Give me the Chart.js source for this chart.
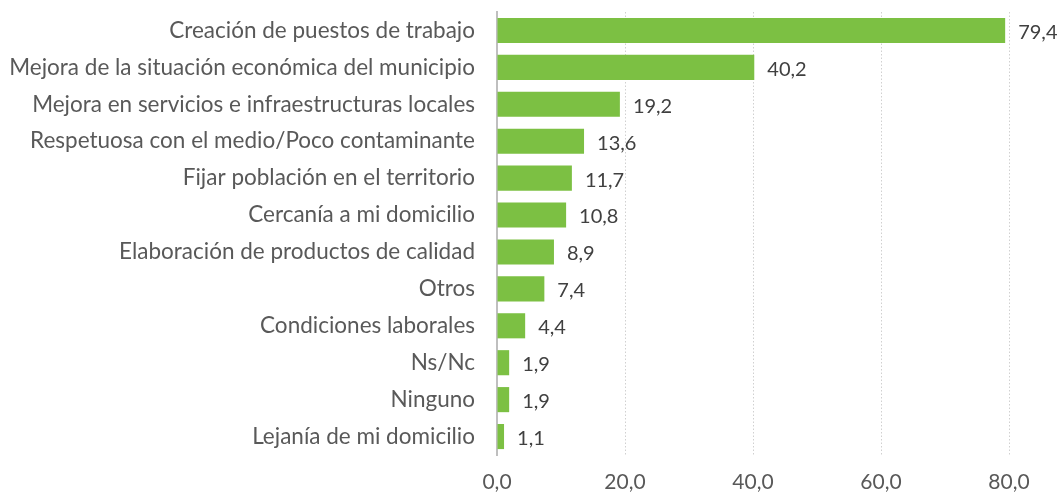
<!DOCTYPE html>
<html>
<head>
<meta charset="utf-8">
<script src="https://cdn.jsdelivr.net/npm/chart.js@4/dist/chart.umd.min.js"></script>
<style>
  body { margin: 0; background: #fff; }
  canvas { display: block; }
</style>
</head>
<body>
<canvas id="chart" width="1057" height="495"></canvas>
<script>
// datos
const categories = [
  'Creación de puestos de trabajo',
  'Mejora de la situación económica del municipio',
  'Mejora en servicios e infraestructuras locales',
  'Respetuosa con el medio/Poco contaminante',
  'Fijar población en el territorio',
  'Cercanía a mi domicilio',
  'Elaboración de productos de calidad',
  'Otros',
  'Condiciones laborales',
  'Ns/Nc',
  'Ninguno',
  'Lejanía de mi domicilio'
];
const values = [79.4, 40.2, 19.2, 13.6, 11.7, 10.8, 8.9, 7.4, 4.4, 1.9, 1.9, 1.1];
const xTicks = [0, 20, 40, 60, 80];

const fontFamily = 'Lato, "Open Sans", sans-serif';
const fmt = v => v.toFixed(1).replace('.', ',');

// etiquetas de valor al final de cada barra
const valueLabels = {
  id: 'valueLabels',
  afterDatasetsDraw(chart) {
    const ctx = chart.ctx;
    const meta = chart.getDatasetMeta(0);
    ctx.save();
    ctx.font = '20px ' + fontFamily;
    ctx.fillStyle = '#404040';
    ctx.textAlign = 'left';
    ctx.textBaseline = 'middle';
    meta.data.forEach((bar, i) => {
      ctx.fillText(fmt(values[i]), bar.x + 13, bar.y + 2);
    });
    ctx.restore();
  }
};

const ctx = document.getElementById('chart').getContext('2d');
window.myChart = new Chart(ctx, {
  type: 'bar',
  data: {
    labels: categories,
    datasets: [{
      data: values,
      backgroundColor: '#7cc043',
      barPercentage: 0.68,
      categoryPercentage: 1
    }]
  },
  options: {
    responsive: false,
    animation: false,
    indexAxis: 'y',
    layout: { padding: { top: 12, right: 48, bottom: 0, left: 0 } },
    plugins: {
      legend: { display: false },
      tooltip: { enabled: false }
    },
    scales: {
      x: {
        min: 0,
        max: 80,
        afterBuildTicks: scale => { scale.ticks = xTicks.map(v => ({ value: v })); },
        afterFit: scale => { scale.height = 40; },
        grid: {
          color: c => c.tick && c.tick.value === 0 ? 'rgba(0,0,0,0)' : '#d0d0d0',
          lineWidth: 1,
          drawTicks: false
        },
        border: { display: false, dash: [1.5, 2] },
        ticks: {
          padding: 15,
          color: '#595959',
          font: { family: fontFamily, size: 21 },
          callback: v => fmt(v)
        }
      },
      y: {
        grid: { display: false, drawTicks: false },
        border: { display: true, color: '#bfbfbf', width: 2 },
        afterFit: scale => {
          scale.width = 497;
          scale.paddingTop = 0;
          scale.paddingBottom = 0;
        },
        ticks: {
          padding: 22,
          color: '#595959',
          font: { family: fontFamily, size: 22.5 }
        }
      }
    }
  },
  plugins: [valueLabels]
});
</script>
</body>
</html>
